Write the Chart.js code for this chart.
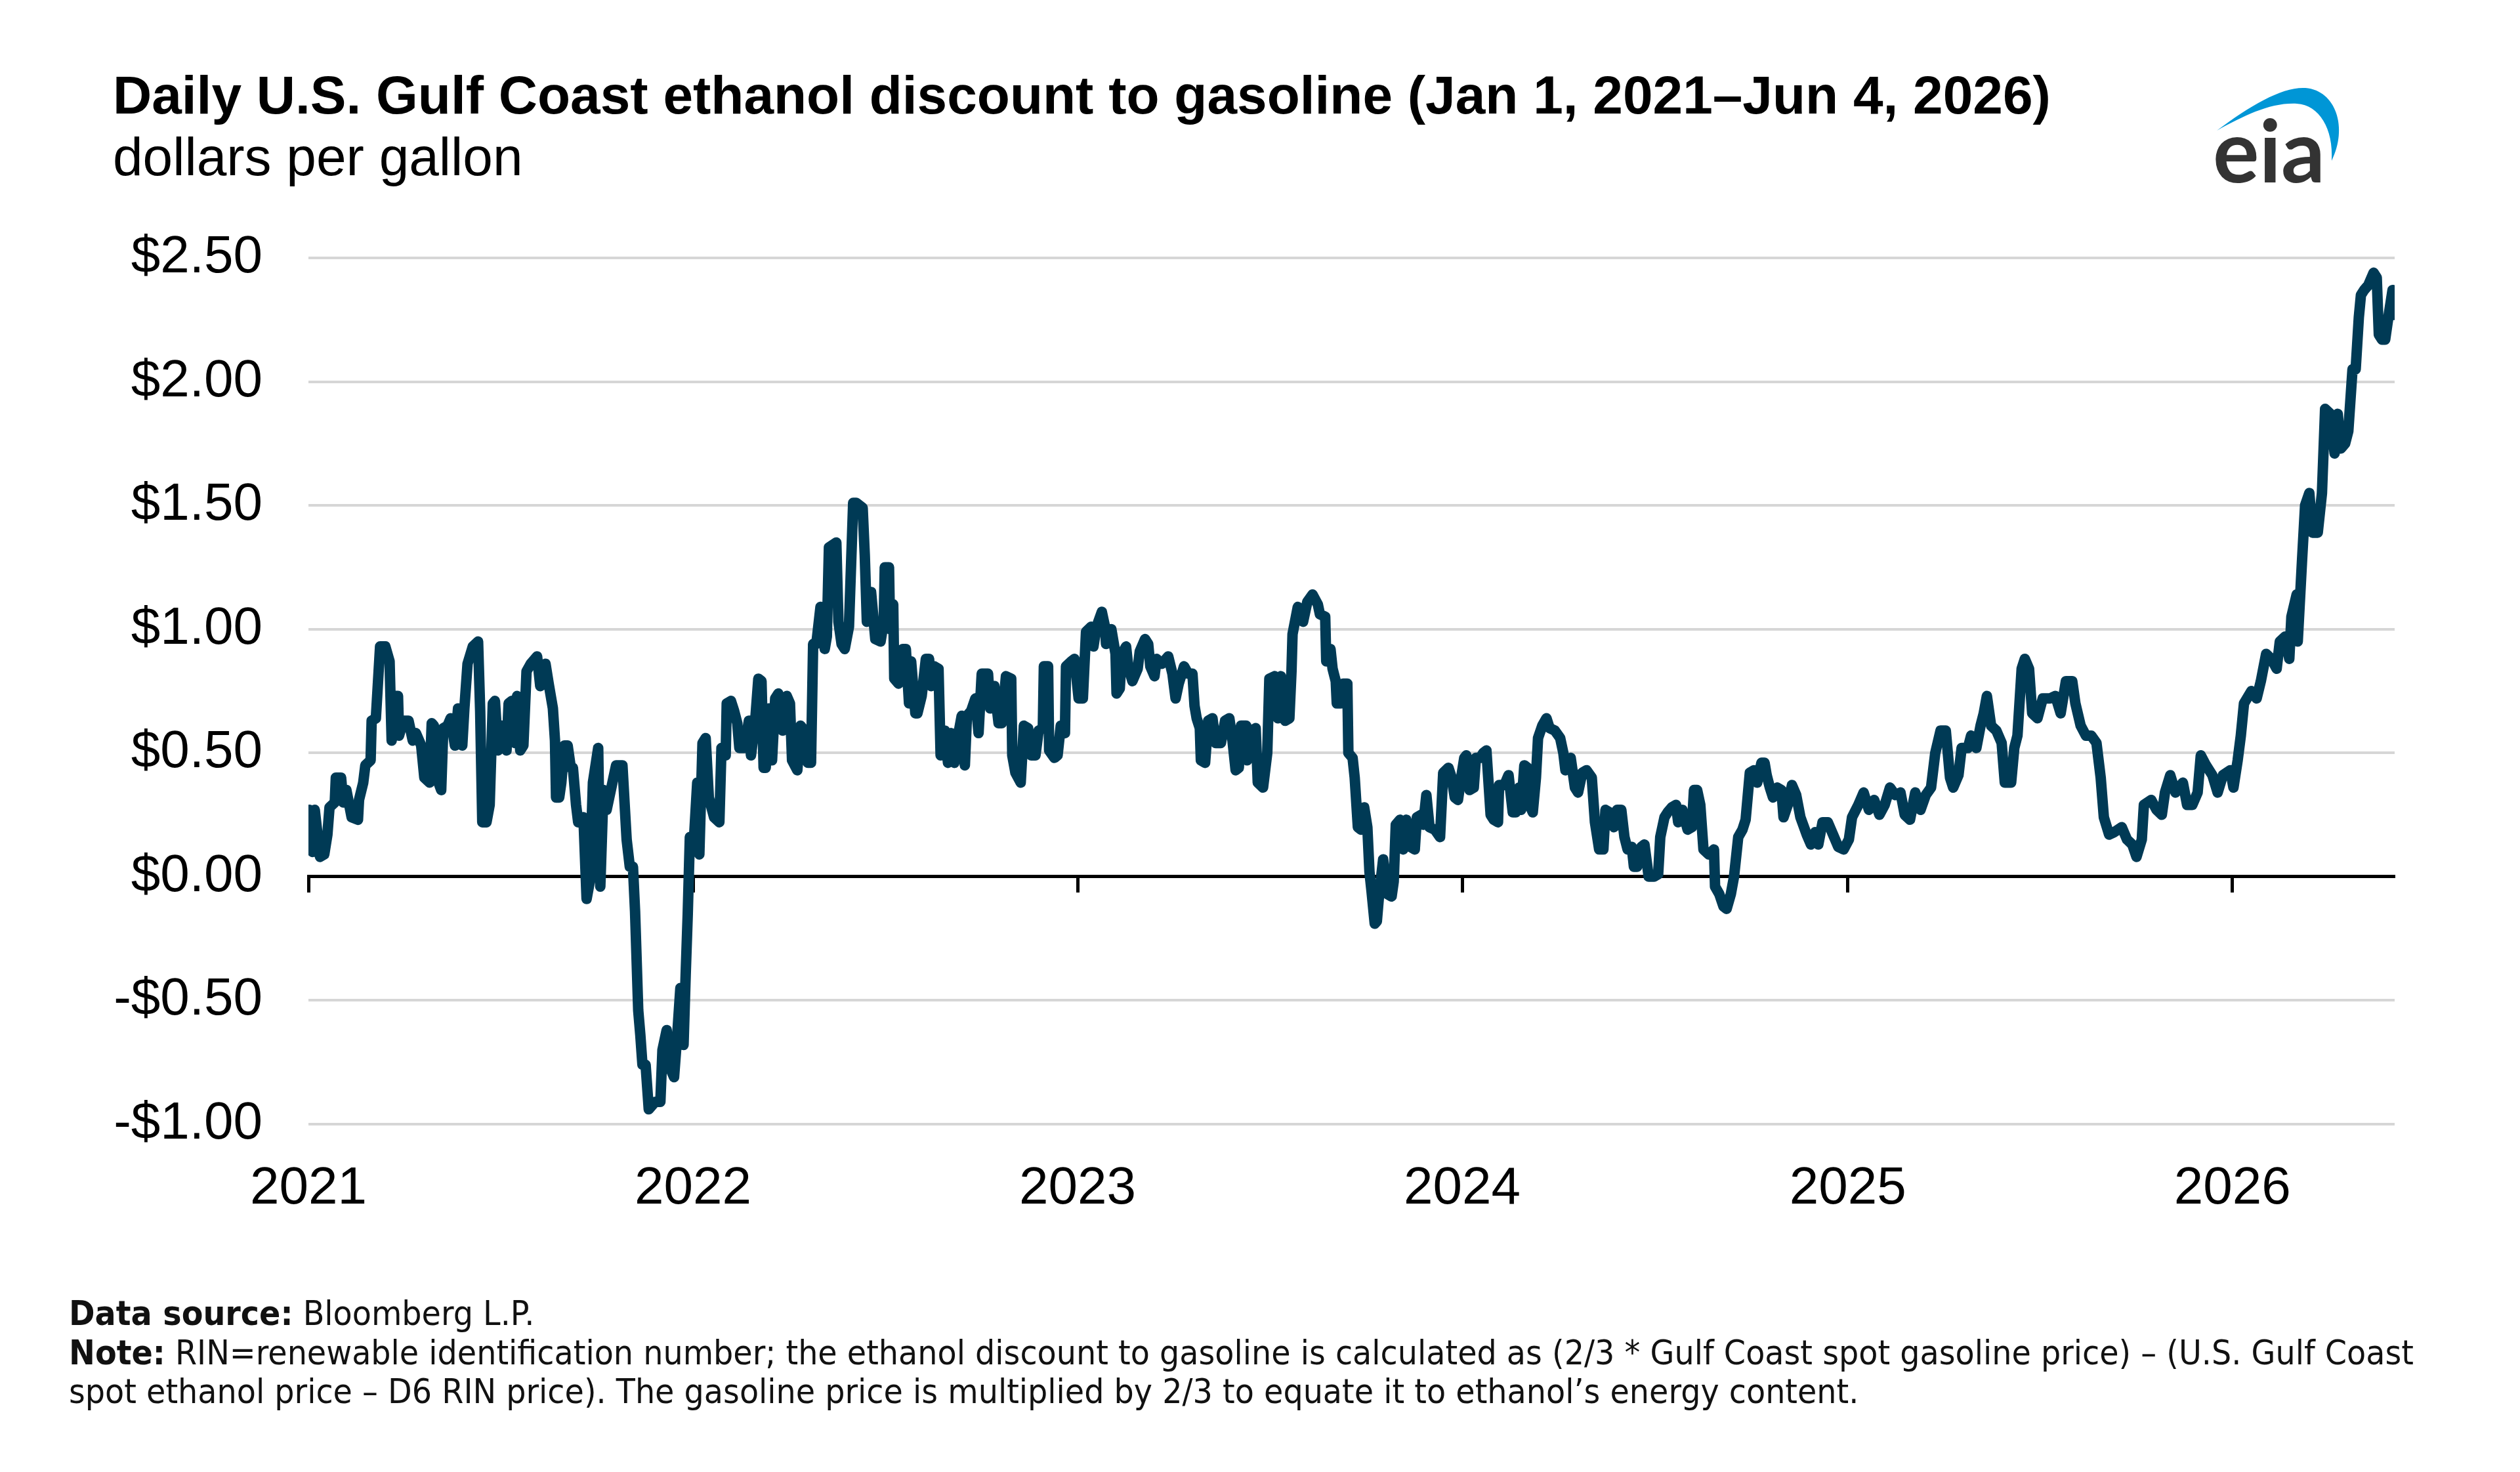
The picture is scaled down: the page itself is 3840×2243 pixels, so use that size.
<!DOCTYPE html>
<html>
<head>
<meta charset="utf-8">
<title>Daily U.S. Gulf Coast ethanol discount to gasoline</title>
<script src="https://cdn.jsdelivr.net/npm/chart.js@4.4.1/dist/chart.umd.min.js"></script>
<style>
  html, body { margin: 0; padding: 0; background: #fff; }
  #wrap { position: relative; width: 3840px; height: 2243px; }
</style>
</head>
<body>
<div id="wrap"><canvas id="chart"></canvas></div>
<script>
// ---- data ----
// x = days since Jan 1, 2021, y = discount in dollars per gallon
const obs2021 = [[1,0.27],[4,0.10],[6,0.27],[11,0.08],[15,0.09],[18,0.17],[20,0.28],[25,0.30],[26,0.40],[31,0.40],
  [33,0.30],[36,0.35],[41,0.24],[47,0.23],[48,0.31],[52,0.38],[54,0.45],[59,0.47],[60,0.63],[64,0.64],
  [68,0.93],[73,0.93],[77,0.87],[79,0.55],[81,0.73],[85,0.73],[86,0.57],[90,0.63],[95,0.63],[99,0.55],
  [102,0.58],[107,0.53],[110,0.40],[115,0.38],[117,0.62],[119,0.61],[121,0.41],[126,0.35],[128,0.60],[132,0.61],
  [135,0.64],[139,0.53],[142,0.68],[146,0.53],[148,0.68],[151,0.86],[156,0.93],[161,0.95],[163,0.67],[165,0.22],
  [169,0.22],[172,0.29],[175,0.70],[177,0.71],[180,0.51],[183,0.61],[188,0.51],[190,0.70],[193,0.71],[196,0.54],
  [198,0.73],[201,0.51],[204,0.53],[207,0.83],[211,0.86],[217,0.89],[220,0.77],[225,0.86],[228,0.78],[232,0.68],
  [234,0.55],[235,0.32],[238,0.32],[240,0.38],[243,0.53],[246,0.53],[249,0.44],[251,0.44],[254,0.29],[256,0.22],
  [261,0.24],[264,-0.09],[267,-0.02],[270,0.38],[275,0.52],[277,-0.04],[280,0.35],[283,0.27],[287,0.35],[292,0.45],
  [298,0.45],[302,0.15],[305,0.04],[308,0.04],[310,-0.14],[313,-0.54],[315,-0.64],[317,-0.76],[320,-0.76],[323,-0.94],
  [329,-0.91],[334,-0.91],[336,-0.70],[340,-0.62],[344,-0.78],[347,-0.81],[350,-0.64],[353,-0.45],[356,-0.68],[358,-0.40],
  [360,-0.15],[362,0.16]];

const obs2022 = [[366,0.16],[369,0.38],[371,0.09],[374,0.54],[377,0.56],[380,0.32],[385,0.24],[390,0.22],[392,0.52],[396,0.49],
  [397,0.70],[401,0.71],[404,0.67],[407,0.62],[409,0.52],[414,0.52],[418,0.63],[420,0.49],[424,0.63],[427,0.80],
  [430,0.79],[432,0.44],[434,0.44],[437,0.68],[440,0.47],[443,0.72],[446,0.74],[450,0.59],[454,0.73],[457,0.70],
  [459,0.47],[464,0.43],[467,0.61],[471,0.59],[474,0.46],[477,0.46],[479,0.94],[482,0.94],[486,1.09],[490,0.92],
  [492,0.97],[494,1.33],[501,1.35],[503,1.03],[506,0.94],[509,0.92],[513,1.01],[517,1.51],[520,1.51],[526,1.49],
  [528,1.30],[530,1.03],[534,1.15],[538,0.96],[543,0.95],[546,1.03],[547,1.25],[551,1.25],[552,1.00],[555,1.10],
  [556,0.80],[560,0.78],[564,0.92],[567,0.92],[570,0.70],[572,0.87],[576,0.66],[578,0.66],[582,0.73],[586,0.88],
  [589,0.88],[591,0.77],[594,0.85],[598,0.84],[600,0.49],[604,0.59],[607,0.46],[610,0.58],[613,0.46],[617,0.58],
  [620,0.65],[623,0.45],[625,0.65],[629,0.67],[633,0.72],[636,0.58],[639,0.82],[645,0.82],[647,0.68],[651,0.77],
  [655,0.62],[658,0.62],[662,0.81],[667,0.80],[668,0.49],[671,0.42],[676,0.38],[679,0.61],[683,0.60],[686,0.49],
  [690,0.49],[693,0.59],[697,0.60],[698,0.85],[702,0.85],[703,0.51],[708,0.48],[711,0.49],[714,0.61],[718,0.58],
  [719,0.85],[724,0.87],[727,0.88]];

const obs2023 = [[731,0.72],[735,0.72],[738,0.99],[743,1.01],[745,0.93],[748,1.01],[753,1.07],[756,1.01],[757,0.94],[762,1.00],
  [766,0.90],[767,0.74],[770,0.76],[772,0.90],[776,0.93],[778,0.85],[782,0.79],[787,0.84],[789,0.91],[794,0.96],
  [797,0.94],[799,0.85],[803,0.81],[805,0.88],[810,0.86],[814,0.88],[816,0.89],[820,0.82],[823,0.72],[826,0.78],
  [831,0.85],[835,0.82],[839,0.82],[841,0.69],[843,0.64],[846,0.60],[847,0.47],[851,0.46],[854,0.63],[858,0.64],
  [861,0.54],[866,0.54],[870,0.63],[874,0.64],[877,0.55],[880,0.43],[883,0.44],[885,0.61],[890,0.61],[891,0.47],
  [895,0.59],[899,0.60],[901,0.38],[906,0.36],[910,0.50],[912,0.80],[917,0.81],[920,0.64],[923,0.81],[927,0.63],
  [931,0.64],[933,0.83],[934,0.98],[939,1.09],[944,1.03],[948,1.11],[953,1.14],[958,1.10],[960,1.06],[965,1.05],
  [966,0.87],[969,0.88],[970,0.92],[972,0.84],[975,0.79],[976,0.70],[980,0.70],[982,0.78],[986,0.78],[987,0.50],
  [991,0.48],[993,0.40],[996,0.20],[999,0.19],[1002,0.28],[1005,0.20],[1007,0.02],[1009,-0.06],[1012,-0.19],[1014,-0.18],
  [1016,-0.08],[1020,0.07],[1024,-0.07],[1028,-0.08],[1030,-0.02],[1032,0.21],[1036,0.23],[1039,0.11],[1042,0.23],[1046,0.12],
  [1050,0.11],[1052,0.24],[1056,0.25],[1058,0.21],[1061,0.33],[1064,0.20],[1069,0.19],[1074,0.16],[1077,0.42],[1082,0.44],
  [1085,0.40],[1088,0.32],[1091,0.31],[1094,0.40]];

const obs2024 = [[1097,0.48],[1099,0.49],[1102,0.35],[1106,0.36],[1108,0.48],[1112,0.48],[1115,0.50],[1118,0.51],[1122,0.25],[1125,0.23],
  [1129,0.22],[1130,0.37],[1135,0.37],[1139,0.41],[1143,0.26],[1146,0.26],[1149,0.36],[1151,0.27],[1154,0.45],[1157,0.44],
  [1159,0.29],[1162,0.26],[1165,0.40],[1167,0.56],[1171,0.61],[1175,0.64],[1178,0.60],[1183,0.59],[1188,0.56],[1191,0.50],
  [1193,0.43],[1198,0.48],[1202,0.36],[1205,0.34],[1209,0.42],[1213,0.43],[1218,0.40],[1221,0.22],[1225,0.11],[1229,0.11],
  [1231,0.27],[1235,0.26],[1239,0.20],[1242,0.27],[1246,0.27],[1249,0.16],[1252,0.11],[1256,0.12],[1258,0.04],[1261,0.04],
  [1265,0.12],[1268,0.13],[1272,0.00],[1277,0.00],[1281,0.01],[1283,0.16],[1287,0.24],[1290,0.26],[1294,0.28],[1298,0.29],
  [1300,0.22],[1304,0.27],[1309,0.19],[1313,0.20],[1315,0.35],[1318,0.35],[1321,0.29],[1324,0.11],[1329,0.09],[1334,0.11],
  [1335,-0.04],[1339,-0.07],[1343,-0.12],[1346,-0.13],[1350,-0.07],[1353,0.00],[1357,0.16],[1361,0.19],[1364,0.23],[1368,0.42],
  [1372,0.43],[1375,0.38],[1379,0.46],[1382,0.46],[1384,0.41],[1387,0.36],[1390,0.32],[1394,0.36],[1398,0.35],[1400,0.24],
  [1404,0.29],[1408,0.37],[1412,0.33],[1416,0.24],[1422,0.17],[1426,0.13],[1430,0.18],[1433,0.13],[1437,0.22],[1442,0.22],
  [1447,0.17],[1452,0.12],[1457,0.11]];

const obs2025 = [[1462,0.15],[1465,0.24],[1471,0.29],[1476,0.34],[1481,0.27],[1486,0.31],[1491,0.25],[1496,0.29],[1501,0.36],[1506,0.33],
  [1511,0.34],[1515,0.25],[1520,0.23],[1525,0.34],[1530,0.27],[1535,0.33],[1540,0.36],[1544,0.50],[1549,0.59],[1554,0.59],
  [1558,0.40],[1561,0.36],[1566,0.41],[1569,0.52],[1575,0.52],[1578,0.57],[1583,0.52],[1587,0.61],[1590,0.66],[1593,0.73],
  [1597,0.61],[1602,0.59],[1607,0.54],[1610,0.38],[1616,0.38],[1619,0.52],[1622,0.57],[1626,0.84],[1629,0.88],[1633,0.84],
  [1636,0.66],[1641,0.64],[1646,0.72],[1653,0.72],[1658,0.73],[1663,0.66],[1668,0.79],[1674,0.79],[1677,0.70],[1682,0.61],
  [1687,0.57],[1692,0.57],[1697,0.54],[1701,0.40],[1704,0.24],[1709,0.17],[1714,0.18],[1721,0.20],[1726,0.15],[1731,0.13],
  [1735,0.08],[1740,0.15],[1742,0.29],[1749,0.31],[1754,0.27],[1759,0.25],[1762,0.34],[1767,0.41],[1772,0.34],[1779,0.38],
  [1783,0.29],[1788,0.29],[1793,0.34],[1796,0.49],[1801,0.45],[1807,0.41],[1812,0.34],[1817,0.41],[1824,0.43]];

const obs2026 = [[1827,0.36],[1831,0.47],[1834,0.57],[1837,0.70],[1844,0.75],[1849,0.72],[1853,0.79],[1858,0.90],[1863,0.88],[1868,0.84],
  [1871,0.95],[1876,0.97],[1880,0.88],[1882,1.05],[1887,1.14],[1888,0.95],[1892,1.27],[1895,1.50],[1899,1.55],[1902,1.39],
  [1907,1.39],[1911,1.55],[1914,1.89],[1919,1.87],[1923,1.71],[1926,1.87],[1929,1.73],[1933,1.75],[1936,1.80],[1940,2.05],
  [1943,2.05],[1946,2.26],[1948,2.35],[1951,2.37],[1955,2.39],[1960,2.44],[1963,2.42],[1965,2.19],[1968,2.17],[1971,2.17],
  [1974,2.26],[1978,2.37],[1980,2.27]];

const yearLabels = ['2021', '2022', '2023', '2024', '2025', '2026'];
const yTickValues = [-1, -0.5, 0, 0.5, 1, 1.5, 2, 2.5];

const titleText = 'Daily U.S. Gulf Coast ethanol discount to gasoline (Jan 1, 2021\u2013Jun 4, 2026)';
const subtitleText = 'dollars per gallon';
const footerLines = [
  [['Data source:', true], [' Bloomberg L.P.', false]],
  [['Note:', true], [' RIN=renewable identification number; the ethanol discount to gasoline is calculated as (2/3 * Gulf Coast spot gasoline price) \u2013 (U.S. Gulf Coast', false]],
  [['spot ethanol price \u2013 D6 RIN price). The gasoline price is multiplied by 2/3 to equate it to ethanol\u2019s energy content.', false]]
];

// ---- helpers ----
const DAY = 86400000;
const yearStart = y => (Date.UTC(y, 0, 1) - Date.UTC(2021, 0, 1)) / DAY;
const lastDay = (Date.UTC(2026, 5, 4) - Date.UTC(2021, 0, 1)) / DAY;
const yearTicks = () => yearLabels.map(y => ({ value: yearStart(Number(y)) }));
const dollars = v => (v < 0 ? '-$' : '$') + Math.abs(v).toFixed(2);

const series = [].concat(obs2021, obs2022, obs2023, obs2024, obs2025, obs2026)
  .map(([d, v]) => ({ x: d, y: v }));

const SANS = '"Liberation Sans", Arial, sans-serif';
Chart.defaults.font.family = SANS;
Chart.defaults.color = '#000';

// title, notes and logo are drawn straight onto the canvas
const decorations = {
  id: 'decorations',
  afterDraw(chart) {
    const ctx = chart.ctx;
    ctx.save();
    ctx.fillStyle = '#000';
    ctx.textBaseline = 'alphabetic';
    ctx.textAlign = 'left';
    ctx.font = 'bold 82px ' + SANS;
    ctx.fillText(titleText, 172, 173);
    ctx.font = '82px ' + SANS;
    ctx.fillText(subtitleText, 172, 267);

    // footer, squeezed to the width of the original note
    const fnt = b => (b ? 'bold ' : '') + '52px "DejaVu Sans", sans-serif';
    let w = 0;
    footerLines[1].forEach(([t, b]) => { ctx.font = fnt(b); w += ctx.measureText(t).width; });
    const sx = 3573 / w;
    const baselines = [2019, 2079, 2138];
    ctx.fillStyle = '#111';
    footerLines.forEach((line, i) => {
      ctx.save();
      ctx.translate(105, baselines[i]);
      ctx.scale(sx, 1);
      let cx = 0;
      line.forEach(([t, b]) => {
        ctx.font = fnt(b);
        ctx.fillText(t, cx, 0);
        cx += ctx.measureText(t).width;
      });
      ctx.restore();
    });

    // eia logo
    ctx.fillStyle = '#0096d6';
    ctx.beginPath();
    ctx.moveTo(3378, 199);
    ctx.bezierCurveTo(3430, 160, 3478, 132, 3513, 134);
    ctx.bezierCurveTo(3560, 138, 3578, 195, 3553, 245);
    ctx.bezierCurveTo(3556, 196, 3534, 160, 3500, 158);
    ctx.bezierCurveTo(3460, 156, 3420, 176, 3378, 199);
    ctx.closePath();
    ctx.fill();
    ctx.fillStyle = '#333';
    ctx.font = '700 132px Lato, "Open Sans", sans-serif';
    ctx.fillText('eia', 3372, 278);
    ctx.restore();
  }
};

new Chart(document.getElementById('chart'), {
  type: 'line',
  data: {
    datasets: [{
      data: series,
      borderColor: '#003a55',
      borderWidth: 16,
      pointRadius: 0,
      tension: 0,
      borderJoinStyle: 'round',
      borderCapStyle: 'round',
      xAxisID: 'x',
      yAxisID: 'y'
    }]
  },
  options: {
    responsive: true,
    maintainAspectRatio: false,
    animation: false,
    devicePixelRatio: 1,
    layout: { padding: { left: 0, right: 191, top: 393, bottom: 360 } },
    plugins: { legend: { display: false }, tooltip: { enabled: false } },
    scales: {
      x: {
        type: 'linear',
        min: 0,
        max: lastDay,
        afterBuildTicks: s => { s.ticks = yearTicks(); },
        afterFit: s => { s.height = 170; },
        ticks: {
          font: { size: 80 },
          color: '#000',
          padding: 51,
          maxRotation: 0,
          autoSkip: false,
          callback: (v, i) => yearLabels[i]
        },
        grid: { display: false, drawTicks: false },
        border: { display: false }
      },
      x2: {
        type: 'linear',
        axis: 'x',
        position: { y: 0 },
        min: 0,
        max: lastDay,
        afterBuildTicks: s => { s.ticks = yearTicks(); },
        ticks: { display: false },
        grid: { drawOnChartArea: false, drawTicks: true, tickLength: 22, tickWidth: 5, tickColor: '#000' },
        border: { display: true, color: '#000', width: 5 }
      },
      y: {
        min: -1,
        max: 2.5,
        afterBuildTicks: s => { s.ticks = yTickValues.map(v => ({ value: v })); },
        afterFit: s => { s.width = 470; },
        ticks: {
          font: { size: 80 },
          color: '#000',
          padding: 70,
          callback: v => dollars(v)
        },
        grid: {
          color: c => (c.tick && c.tick.value === 0 ? 'rgba(0,0,0,0)' : '#d6d6d6'),
          lineWidth: 4,
          drawTicks: false
        },
        border: { display: false }
      }
    }
  },
  plugins: [decorations]
});
</script>
</body>
</html>
